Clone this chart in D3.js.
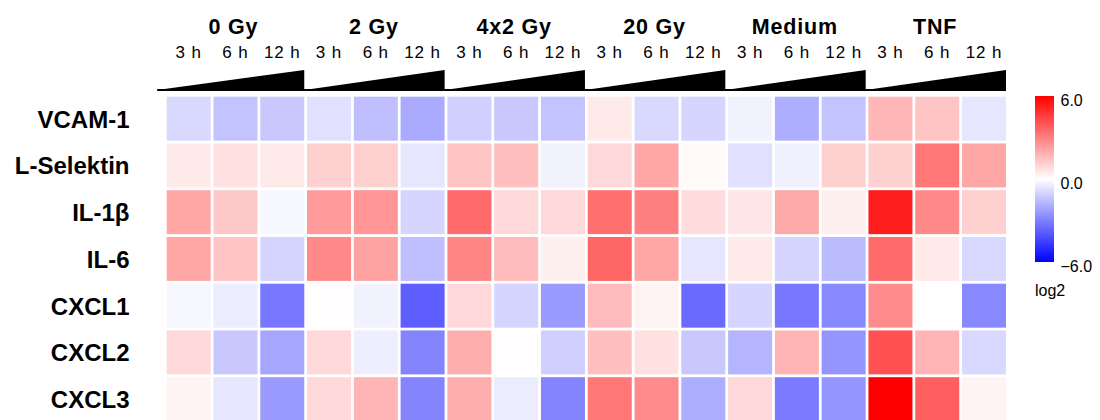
<!DOCTYPE html>
<html>
<head>
<meta charset="utf-8">
<script src="https://cdn.jsdelivr.net/npm/d3@7"></script>
<style>
  html, body { margin: 0; padding: 0; background: #fff; }
  svg { display: block; font-family: Arial, "Liberation Sans", Helvetica, sans-serif; }
</style>
</head>
<body>
<svg id="chart" width="1100" height="420"></svg>
<script>
// ---- data ----
const groups = ["0 Gy", "2 Gy", "4x2 Gy", "20 Gy", "Medium", "TNF"];
const times = ["3 h", "6 h", "12 h"];
const genes = ["VCAM-1", "L-Selektin", "IL-1β", "IL-6", "CXCL1", "CXCL2", "CXCL3"];
// log2 fold change, 18 values per gene (group x time)
const vcam1     = [-0.9, -1.4, -1.3, -0.7, -1.5, -2.0, -1.1, -1.3, -1.4,  0.5, -0.9, -1.0, -0.3, -1.9, -1.4,  1.7,  1.4, -0.6];
const lSelektin = [ 0.5,  0.7,  0.5,  1.1,  1.1, -0.6,  1.4,  1.5, -0.3,  0.9,  2.1,  0.15, -0.7, -0.35, 1.1,  1.1,  3.2,  2.1];
const il1b      = [ 2.1,  1.3, -0.2,  2.35, 2.5, -1.0,  3.5,  0.9,  0.9,  3.4,  3.0,  0.8,  0.6,  2.0,  0.35, 5.3,  2.8,  1.1];
const il6       = [ 2.1,  1.4, -1.0,  2.8,  2.2, -1.5,  2.9,  1.6,  0.35, 3.6,  2.1, -0.6,  0.5, -1.0, -1.6,  3.5,  0.5, -0.9];
const cxcl1     = [-0.2, -0.45, -3.2, 0.05, -0.3, -3.8,  0.9, -1.0, -2.35, 1.6,  0.3, -3.5, -1.0, -3.2, -2.8,  2.7,  0.0, -2.8];
const cxcl2     = [ 0.9, -1.3, -2.1,  0.9, -0.4, -2.9,  1.9,  0.05, -1.1, 1.5,  0.7, -1.3, -1.75, 1.75, -2.5, 4.1,  1.75, -0.9];
const cxcl3     = [ 0.25, -0.6, -2.35, 0.9, 1.75, -2.9, 1.9, -0.45, -2.9, 3.2,  2.7, -1.9,  0.9, -3.1, -2.5,  6.0,  3.8,  0.25];
const values = [vcam1, lSelektin, il1b, il6, cxcl1, cxcl2, cxcl3];
const legendTicks = [6, 0, -6];
const legendTitle = "log2";

// ---- layout ----
const svg = d3.select("#chart");
const columns = [];
groups.forEach((g, gi) => times.forEach((t, ti) => columns.push({ g, gi, t, ti, key: g + "|" + t })));

const pad = 0.0594;
const x = d3.scaleBand().domain(columns.map(c => c.key)).range([165.3, 1007.4])
  .paddingInner(pad).paddingOuter(pad / 2);
const y = d3.scaleBand().domain(genes).range([95.3, 95.3 + 7 * 46.75])
  .paddingInner(pad).paddingOuter(pad / 2);
const color = d3.scaleLinear().domain([-6, 0, 6]).range(["#0000ff", "#ffffff", "#ff0000"]);

// ---- cells ----
const cells = [];
genes.forEach((gene, r) => columns.forEach((c, ci) => cells.push({ gene, c, v: values[r][ci] })));
svg.append("g").selectAll("rect").data(cells).join("rect")
  .attr("x", d => x(d.c.key))
  .attr("y", d => y(d.gene))
  .attr("width", x.bandwidth())
  .attr("height", y.bandwidth())
  .attr("fill", d => color(d.v));

// ---- row labels ----
svg.append("g").selectAll("text").data(genes).join("text")
  .attr("x", 129.5)
  .attr("y", d => y(d) + y.bandwidth() / 2 + 9)
  .attr("text-anchor", "end")
  .attr("font-weight", "bold")
  .attr("font-size", 24)
  .attr("fill", "#000")
  .text(d => d);

// ---- group headers ----
const groupStart = gi => x(columns[gi * 3].key);
const groupEnd = gi => x(columns[gi * 3 + 2].key) + x.bandwidth();
svg.append("g").selectAll("text").data(groups).join("text")
  .attr("x", (d, i) => (groupStart(i) + groupEnd(i)) / 2 - 2)
  .attr("y", 34)
  .attr("text-anchor", "middle")
  .attr("font-weight", "bold")
  .attr("font-size", 21.5)
  .attr("letter-spacing", 0.8)
  .text(d => d);

// ---- time labels ----
svg.append("g").selectAll("text").data(columns).join("text")
  .attr("x", d => x(d.key) + x.bandwidth() / 2)
  .attr("y", 58)
  .attr("text-anchor", "middle")
  .attr("font-size", 17)
  .attr("letter-spacing", 0.9)
  .text(d => d.t);

// ---- wedges ----
const baseY = 90, topY = 70;
const wedges = svg.append("g");
groups.forEach((g, i) => {
  const x0 = i === 0 ? groupStart(i) - 9.5 : groupEnd(i - 1);
  const x1 = groupEnd(i);
  wedges.append("path")
    .attr("d", `M${x0},${baseY} L${x1},${topY} L${x1},${baseY} Z`)
    .attr("fill", "#000");
});
wedges.append("line")
  .attr("x1", groupStart(0) - 9.5).attr("x2", groupEnd(groups.length - 1))
  .attr("y1", baseY).attr("y2", baseY)
  .attr("stroke", "#000").attr("stroke-width", 2);

// ---- legend ----
const lx = 1035, lw = 19, ly0 = 96, ly1 = 262;
const defs = svg.append("defs");
const grad = defs.append("linearGradient").attr("id", "lg")
  .attr("x1", 0).attr("y1", 0).attr("x2", 0).attr("y2", 1);
d3.range(0, 1.0001, 0.1).forEach(t => {
  grad.append("stop").attr("offset", t).attr("stop-color", color(6 - 12 * t));
});
svg.append("rect").attr("x", lx).attr("y", ly0).attr("width", lw).attr("height", ly1 - ly0)
  .attr("fill", "url(#lg)");
const ls = d3.scaleLinear().domain([6, -6]).range([ly0 + 4, ly1 + 4]);
svg.append("g").selectAll("text").data(legendTicks).join("text")
  .attr("x", 1060.5)
  .attr("y", d => ls(d) + 5.5)
  .attr("font-size", 16)
  .text(d => d3.format(".1f")(d));
svg.append("text").attr("x", lx).attr("y", 296).attr("font-size", 16).text(legendTitle);
</script>
</body>
</html>
